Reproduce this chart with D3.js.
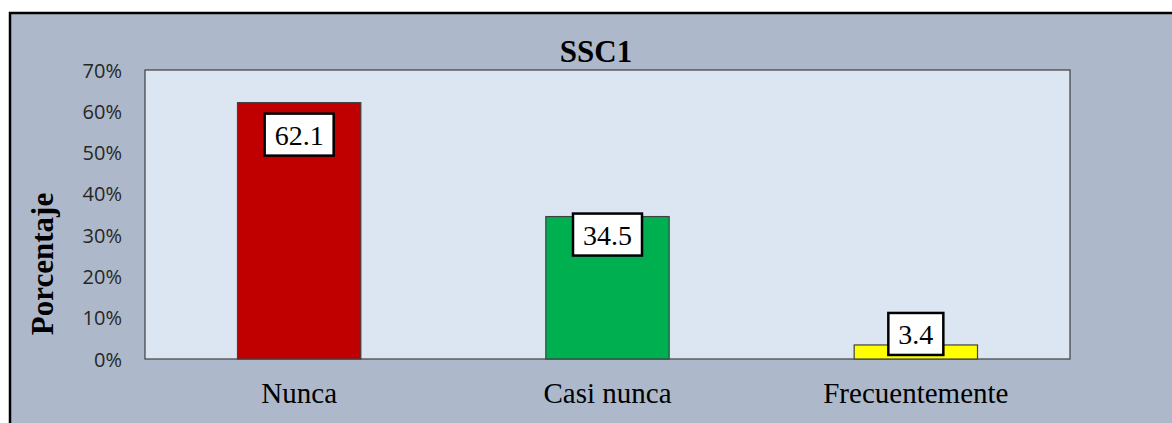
<!DOCTYPE html>
<html>
<head>
<meta charset="utf-8">
<script src="https://cdnjs.cloudflare.com/ajax/libs/d3/7.8.5/d3.min.js"></script>
<style>
	html, body { margin: 0; padding: 0; background: #ffffff; }
	svg { display: block; }
</style>
</head>
<body>
<div id="chart"></div>
<script>
// data
var categories = ["Nunca", "Casi nunca", "Frecuentemente"];
var values = [62.1, 34.5, 3.4];
var barColors = ["#c00000", "#00b050", "#ffff00"];
var yTicks = [0, 10, 20, 30, 40, 50, 60, 70];
var chartTitle = "SSC1";
var yTitle = "Porcentaje";

// label box vertical shift from the bar top (px), as placed in the original
var labelShift = [32, 18, -11];

var W = 1172, H = 423;
var plot = {left: 145, top: 70, right: 1070, bottom: 359};

var svg = d3.select("#chart").append("svg")
	.attr("width", W)
	.attr("height", H);

// outer chart area
svg.append("rect")
	.attr("x", 10).attr("y", 13)
	.attr("width", W + 20).attr("height", H + 20)
	.attr("fill", "#adb9ca")
	.attr("stroke", "#000")
	.attr("stroke-width", 2.5);

var x = d3.scaleBand()
	.domain(categories)
	.range([plot.left, plot.right])
	.paddingInner(0.6)
	.paddingOuter(0.3);

var y = d3.scaleLinear()
	.domain([0, 70])
	.range([plot.bottom, plot.top]);

// plot area
svg.append("rect")
	.attr("x", plot.left).attr("y", plot.top)
	.attr("width", plot.right - plot.left)
	.attr("height", plot.bottom - plot.top)
	.attr("fill", "#dce6f2")
	.attr("stroke", "#404040")
	.attr("stroke-width", 1.2);

// bars
svg.selectAll(".bar")
	.data(values)
	.enter().append("rect")
	.attr("class", "bar")
	.attr("x", function(d, i){ return x(categories[i]); })
	.attr("y", function(d){ return y(d); })
	.attr("width", x.bandwidth())
	.attr("height", function(d){ return y(0) - y(d); })
	.attr("fill", function(d, i){ return barColors[i]; })
	.attr("stroke", "#404040")
	.attr("stroke-width", 1.2);

// y axis (labels only)
var yAxis = d3.axisLeft(y)
	.tickValues(yTicks)
	.tickSize(0)
	.tickPadding(0)
	.tickFormat(function(d){ return d + "%"; });

var ya = svg.append("g")
	.attr("transform", "translate(" + (plot.left - 23) + ",0)")
	.call(yAxis);
ya.select(".domain").remove();
ya.selectAll("text")
	.attr("font-family", "'Open Sans', sans-serif")
	.attr("font-size", 20)
	.attr("fill", "#262626")
	.attr("dy", "0.35em");

// x axis (labels only)
var xAxis = d3.axisBottom(x).tickSize(0).tickPadding(0);
var xa = svg.append("g")
	.attr("transform", "translate(0," + plot.bottom + ")")
	.call(xAxis);
xa.select(".domain").remove();
xa.selectAll("text")
	.attr("font-family", "'Liberation Serif', 'Times New Roman', serif")
	.attr("font-size", 29)
	.attr("fill", "#000")
	.attr("y", 44)
	.attr("dy", 0);

// title
svg.append("text")
	.attr("x", 596)
	.attr("y", 62)
	.attr("text-anchor", "middle")
	.attr("font-family", "'Liberation Serif', 'Times New Roman', serif")
	.attr("font-weight", "bold")
	.attr("font-size", 31)
	.text(chartTitle);

// y title
svg.append("text")
	.attr("transform", "translate(53," + 264 + ") rotate(-90)")
	.attr("text-anchor", "middle")
	.attr("font-family", "'Liberation Serif', 'Times New Roman', serif")
	.attr("font-weight", "bold")
	.attr("font-size", 31)
	.text(yTitle);

// data labels in boxes
var lab = svg.selectAll(".lab")
	.data(values)
	.enter().append("g")
	.attr("class", "lab")
	.attr("transform", function(d, i){
		return "translate(" + (x(categories[i]) + x.bandwidth() / 2) + "," + (y(d) + labelShift[i]) + ")";
	});

var labBox = lab.append("rect")
	.attr("fill", "#fff")
	.attr("stroke", "#000")
	.attr("stroke-width", 2.5);

var labText = lab.append("text")
	.attr("text-anchor", "middle")
	.attr("y", 10)
	.attr("font-family", "'Liberation Serif', 'Times New Roman', serif")
	.attr("font-size", 28)
	.attr("fill", "#000")
	.text(function(d){ return d.toFixed(1); });

labText.each(function(d, i){
	var w = this.getComputedTextLength() + 20;
	d3.select(labBox.nodes()[i])
		.attr("x", -w / 2)
		.attr("y", -21)
		.attr("width", w)
		.attr("height", 42);
});
</script>
</body>
</html>
